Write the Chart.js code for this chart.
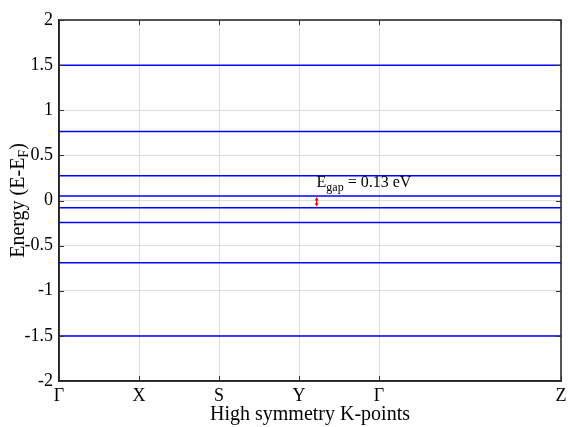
<!DOCTYPE html>
<html>
<head>
<meta charset="utf-8">
<script src="https://cdn.jsdelivr.net/npm/chart.js@4/dist/chart.umd.min.js"></script>
<style>
  html, body { margin: 0; padding: 0; background: #fff; }
  #wrap { width: 568px; height: 427px; }
</style>
</head>
<body>
<div id="wrap"><canvas id="bands"></canvas></div>
<script>
// k-path: positions of the high symmetry points and their labels
const kPositions = [0, 1, 2, 3, 4, 6.275];
const kLabels = ['Γ', 'X', 'S', 'Y', 'Γ', 'Z'];
// flat bands (eV, relative to E_F)
const bandEnergies = [1.5, 0.765, 0.275, 0.05, -0.08, -0.245, -0.69, -1.5];
// gap marker
const gapK = 3.22;
const gapTop = 0.05;
const gapBottom = -0.08;
const gapText = '0.13 eV';

const serif = '"Liberation Serif", "DejaVu Serif", serif';

const datasets = bandEnergies.map(e => ({
    data: [{x: kPositions[0], y: e}, {x: kPositions[kPositions.length - 1], y: e}],
    borderColor: '#0000ff',
    borderWidth: 1.5,
    pointRadius: 0,
    fill: false
}));

const frame = {
    id: 'frame',
    afterDraw(chart) {
        const ctx = chart.ctx;
        const a = chart.chartArea;
        const xs = chart.scales.x, ys = chart.scales.y;
        ctx.save();
        // box
        ctx.strokeStyle = '#222';
        ctx.lineWidth = 1.5;
        ctx.strokeRect(a.left, a.top, a.right - a.left, a.bottom - a.top);

        // inner ticks
        ctx.lineWidth = 1;
        ctx.strokeStyle = '#333';
        ctx.beginPath();
        ys.ticks.forEach(t => {
            const py = Math.round(ys.getPixelForValue(t.value)) + 0.5;
            ctx.moveTo(a.left, py); ctx.lineTo(a.left + 5, py);
            ctx.moveTo(a.right, py); ctx.lineTo(a.right - 5, py);
        });
        kPositions.forEach(k => {
            const px = Math.round(xs.getPixelForValue(k)) + 0.5;
            ctx.moveTo(px, a.bottom); ctx.lineTo(px, a.bottom - 5);
            ctx.moveTo(px, a.top); ctx.lineTo(px, a.top + 5);
        });
        ctx.stroke();

        // gap arrow
        const gx = xs.getPixelForValue(gapK);
        const gy1 = ys.getPixelForValue(gapTop) + 1.5;
        const gy2 = ys.getPixelForValue(gapBottom) - 1.5;
        ctx.strokeStyle = '#ff0000';
        ctx.fillStyle = '#ff0000';
        ctx.lineWidth = 1.2;
        ctx.beginPath();
        ctx.moveTo(gx, gy1); ctx.lineTo(gx, gy2);
        ctx.stroke();
        ctx.beginPath();
        ctx.moveTo(gx, gy1); ctx.lineTo(gx - 2, gy1 + 3); ctx.lineTo(gx + 2, gy1 + 3); ctx.closePath();
        ctx.moveTo(gx, gy2); ctx.lineTo(gx - 2, gy2 - 3); ctx.lineTo(gx + 2, gy2 - 3); ctx.closePath();
        ctx.fill();

        // gap label
        ctx.fillStyle = '#000';
        ctx.textBaseline = 'alphabetic';
        ctx.textAlign = 'left';
        let tx = gx;
        const ty = ys.getPixelForValue(gapTop) - 9;
        ctx.font = '16px ' + serif;
        ctx.fillText('E', tx, ty);
        tx += ctx.measureText('E').width;
        ctx.font = '12px ' + serif;
        ctx.fillText('gap', tx, ty + 4);
        tx += ctx.measureText('gap').width;
        ctx.font = '16px ' + serif;
        ctx.fillText(' = ' + gapText, tx, ty);

        // y axis title (rotated, with subscript F)
        ctx.translate(24, (a.top + a.bottom) / 2);
        ctx.rotate(-Math.PI / 2);
        const p1 = 'Energy (E-E', p3 = ')';
        ctx.font = '20px ' + serif;
        const w1 = ctx.measureText(p1).width;
        const w3 = ctx.measureText(p3).width;
        ctx.font = '14px ' + serif;
        const w2 = ctx.measureText('F').width;
        let sx = -(w1 + w2 + w3) / 2;
        ctx.font = '20px ' + serif;
        ctx.fillText(p1, sx, 0);
        sx += w1;
        ctx.font = '14px ' + serif;
        ctx.fillText('F', sx, 4);
        sx += w2;
        ctx.font = '20px ' + serif;
        ctx.fillText(p3, sx, 0);
        ctx.restore();
    }
};

new Chart(document.getElementById('bands'), {
    type: 'line',
    data: { datasets: datasets },
    options: {
        responsive: true,
        maintainAspectRatio: false,
        animation: false,
        layout: { padding: { top: 20, right: 7, left: 0, bottom: 0 } },
        plugins: { legend: { display: false }, tooltip: { enabled: false } },
        scales: {
            x: {
                type: 'linear',
                min: kPositions[0],
                max: kPositions[kPositions.length - 1],
                afterBuildTicks: s => { s.ticks = kPositions.map(v => ({value: v})); },
                afterFit: s => { s.height = 46; s.paddingLeft = 0; s.paddingRight = 0; },
                grid: { color: '#dcdcdc', tickLength: 0, drawTicks: false },
                border: { color: '#222', width: 1.5 },
                ticks: {
                    autoSkip: false,
                    maxRotation: 0,
                    padding: 4,
                    color: '#000',
                    font: { family: serif, size: 18 },
                    callback: (v, i) => kLabels[i]
                },
                title: {
                    display: true,
                    text: 'High symmetry K-points',
                    color: '#000',
                    font: { family: serif, size: 20 },
                    padding: { top: 0, bottom: 0 }
                }
            },
            y: {
                min: -2,
                max: 2,
                afterFit: s => { s.width = 59; s.paddingTop = 0; s.paddingBottom = 0; },
                grid: { color: '#dcdcdc', tickLength: 0, drawTicks: false },
                border: { color: '#222', width: 1.5 },
                ticks: {
                    stepSize: 0.5,
                    padding: 6,
                    color: '#000',
                    font: { family: serif, size: 18 },
                    callback: v => String(v)
                }
            }
        }
    },
    plugins: [frame]
});
</script>
</body>
</html>
